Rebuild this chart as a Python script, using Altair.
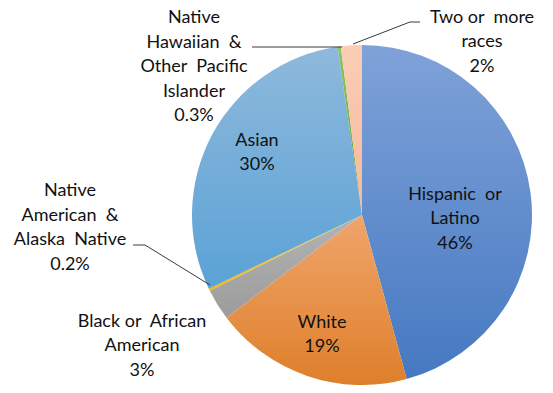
import math
import altair as alt
import pandas as pd

# ---- data ----
categories = ["Hispanic or Latino", "White", "Black or African American",
              "Native American & Alaska Native", "Asian",
              "Native Hawaiian & Other Pacific Islander", "Two or more races"]
values = [46, 19, 3, 0.2, 30, 0.3, 2]
NB = "\u00a0"
label_texts = [f"Hispanic {NB}or\nLatino", "White", f"Black or {NB}African\nAmerican",
               f"Native\nAmerican {NB}&\nAlaska {NB}Native", "Asian",
               f"Native\nHawaiian {NB}&\nOther {NB}Pacific\nIslander", f"Two or {NB}more\nraces"]

# ---- layout / style ----
CX, CY, R = 354, 207, 170
FONT = "Lato"
LH = 24.5
grad_colors = [("#7fa2d8", "#4679c2"),
               ("#f0a56c", "#de7f2a"),
               ("#b4b4b4", "#9c9c9c"),
               ("#ffd040", "#f5b800"),
               ("#8fb9dc", "#5aa2d6"),
               ("#8cc466", "#62a33c"),
               ("#fbcdb6", "#f5b99c")]
# label block centre offsets from pie centre (px)
label_off = [(93, 4), (-40, 120), (-220, 131), (-292, 13), (-105, -62),
             (-168, -148), (120, -173)]
leaders = {
    "natam": [(-229, 30), (-217, 30), (-152, 70)],
    "nhpi": [(-110, -168), (-20, -168)],
    "two": [(-9, -171), (48, -193), (58, -193)],
}

df = pd.DataFrame({"category": categories, "value": values,
                   "order": list(range(len(categories)))})

base = alt.Chart(df).transform_joinaggregate(
    total="sum(value)"
).transform_window(
    cum="sum(value)", sort=[alt.SortField("order")], frame=[None, 0]
).transform_calculate(
    start="2*PI*(datum.cum - datum.value)/datum.total",
    end="2*PI*datum.cum/datum.total",
)

layers = []
for cat, (c1, c2) in zip(categories, grad_colors):
    grad = alt.LinearGradient(
        gradient="linear", x1=0, y1=0, x2=0, y2=1,
        stops=[alt.GradientStop(offset=0, color=c1),
               alt.GradientStop(offset=1, color=c2)])
    layers.append(
        base.transform_filter(alt.datum.category == cat)
        .mark_arc(color=grad, outerRadius=R)
        .encode(theta=alt.Theta("start:Q", scale=None),
                theta2=alt.Theta2("end:Q"),
                x=alt.value(CX), y=alt.value(CY))
    )

# labels
lab_rows = []
for i, (t, v) in enumerate(zip(label_texts, values)):
    dx, dy = label_off[i]
    txt = f"{t}\n{v:g}%"
    n = txt.count("\n") + 1
    lab_rows.append({"text": txt, "lx": CX + dx, "ly": CY + dy - (n - 1) * LH / 2})
lab_df = pd.DataFrame(lab_rows)
labels = alt.Chart(lab_df).mark_text(
    font=FONT, fontSize=18, color="#111111", lineBreak="\n",
    lineHeight=LH, align="center", baseline="middle"
).encode(x=alt.X("lx:Q", scale=None), y=alt.Y("ly:Q", scale=None), text="text:N")

# leader lines
lead_rows = []
for name, pts in leaders.items():
    for j, (dx, dy) in enumerate(pts):
        lead_rows.append({"line": name, "o": j, "px": CX + dx, "py": CY + dy})
lead_df = pd.DataFrame(lead_rows)
lead = alt.Chart(lead_df).mark_line(color="#3a3a3a", strokeWidth=1).encode(
    x=alt.X("px:Q", scale=None), y=alt.Y("py:Q", scale=None),
    detail="line:N", order="o:Q")

chart = alt.layer(*layers, lead, labels).properties(
    width=537, height=377, padding=0, autosize="none"
).configure_view(stroke=None)

chart.save("out.html", embed_options={"renderer": "svg", "actions": False})
